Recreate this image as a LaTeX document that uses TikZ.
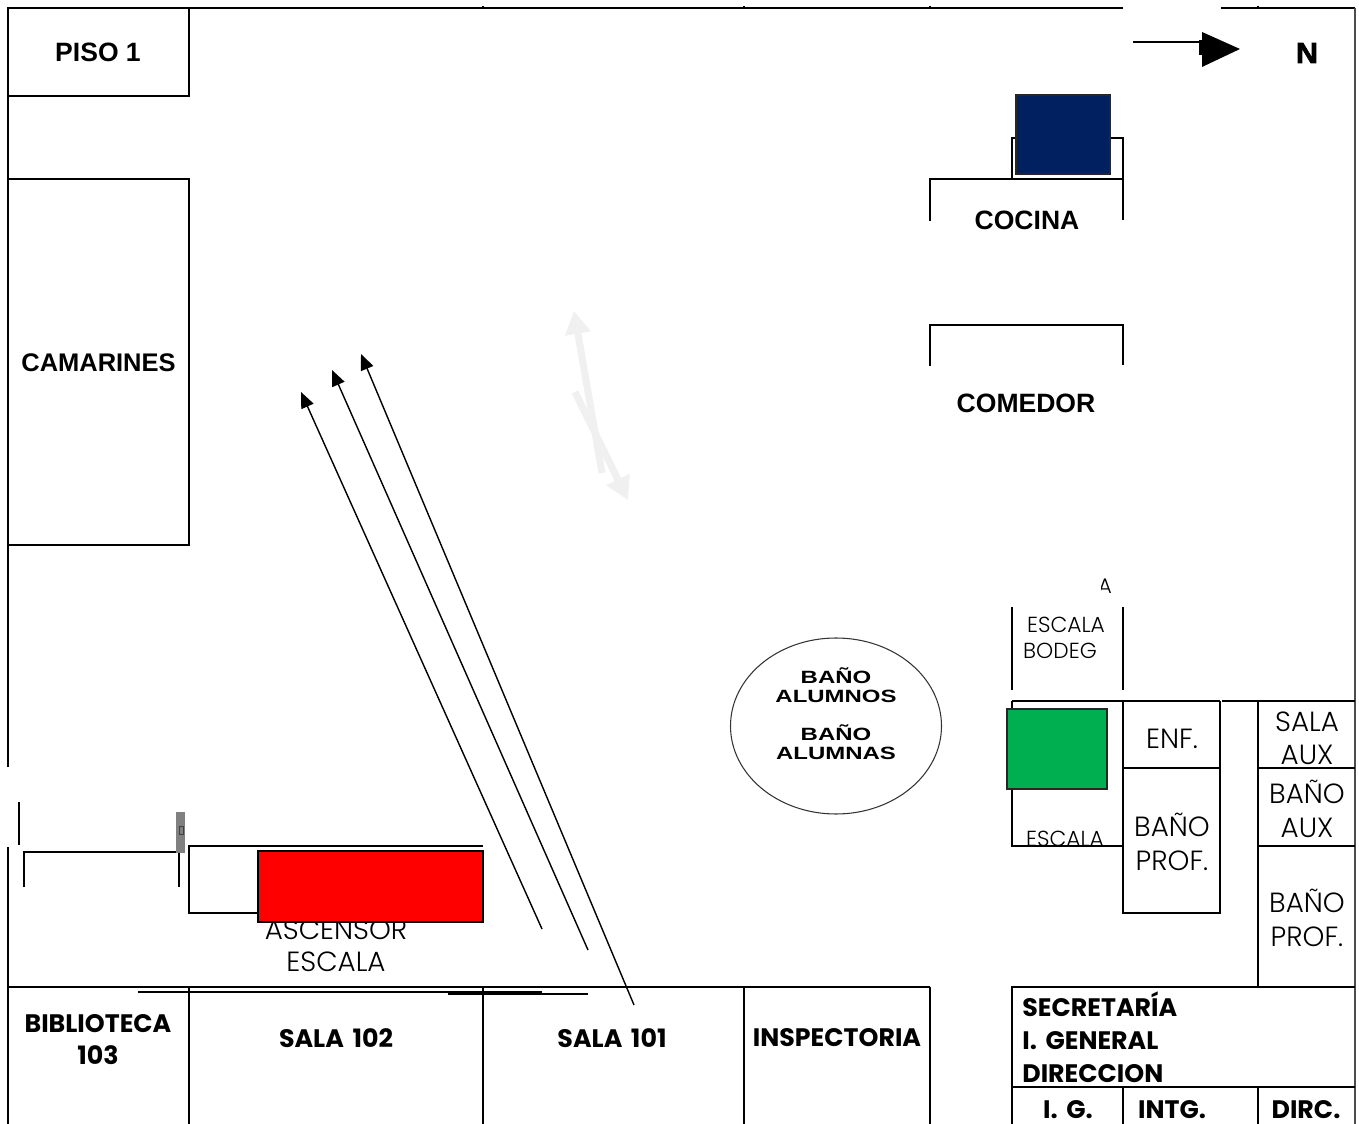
\documentclass[tikz,border=0pt]{standalone}
\usepackage{fontspec}
\usetikzlibrary{arrows.meta}
\setmainfont{Liberation Sans}
\newfontfamily\gothic[UprightFont=* Light,BoldFont=* Bold,BoldFeatures={WordSpace=1.6}]{Poppins}
\newfontfamily\widearial[FakeStretch=1.35]{Liberation Sans}
\newfontfamily\heavy[FakeBold=2.5,FakeStretch=1.05]{Liberation Sans}
\definecolor{navy}{HTML}{002060}
\definecolor{mygreen}{HTML}{00B050}
\definecolor{ghost}{HTML}{F0F0F0}
\tikzset{
 wall/.style={draw=black,line width=0.65pt},
 heavywall/.style={draw=black,line width=0.95pt},
 arial/.style={inner sep=0,font=\fontsize{15.1}{17}\selectfont\bfseries},
 gothiclabel/.style={inner sep=0,align=center,font=\gothic\fontsize{15.8}{19}\selectfont},
 gothicsmall/.style={inner sep=0,align=center,font=\gothic\fontsize{12.4}{14.8}\selectfont},
 gothicbold/.style={inner sep=0,align=center,font=\gothic\fontsize{14.4}{18.7}\selectfont\bfseries},
 gothicfoot/.style={inner sep=0,anchor=base,font=\gothic\fontsize{14.4}{16}\selectfont\bfseries},
 widelabel/.style={inner sep=0,align=center,font=\widearial\fontsize{10.1}{10.9}\selectfont\bfseries},
 thinarrow/.style={draw=black,line width=0.8pt,-{Triangle[length=9pt,width=7.5pt]}},
 ghostarrow/.style={draw=ghost,line width=4pt,-{Triangle[length=13pt,width=14pt]}},
}
\begin{document}
\begin{tikzpicture}[x=0.02cm,y=-0.02cm]
\useasboundingbox (0,0) rectangle (1359,1124);
\fill[white] (0,0) rectangle (1359,1124);
% outer walls
\draw[wall] (8,767) -- (8,8) -- (1123,8);
\draw[wall] (1221,8) -- (1355,8);
\draw[heavywall,draw=black!70] (1355,8) -- (1355,1124);
\draw[wall] (8,847) -- (8,1124);
\draw[wall] (19,802) -- (19,845);
\foreach \tx in {483,744,930,1258} \draw[wall] (\tx,6.5) -- (\tx,9);
% piso + camarines
\draw[heavywall] (189,8) -- (189,96) -- (8,96);
\draw[wall] (8,179) rectangle (189,545);
\node[arial] (piso) at (98,52) {PISO 1};
\node[arial,font=\fontsize{14.5}{17}\selectfont\bfseries] (camarines) at (98.5,363) {CAMARINES};
% cocina, comedor
\draw[wall] (930,221) -- (930,179) -- (1123,179) -- (1123,220);
\draw[wall] (1012,179) -- (1012,138) -- (1123,138) -- (1123,179);
\draw[wall] (930,366) -- (930,325) -- (1123,325) -- (1123,365);
\fill[navy,draw=black!85,line width=0.9pt] (1016,95) rectangle (1110,174);
\node[arial] (cocina) at (1027,220) {COCINA};
\node[arial] (comedor) at (1026,403) {COMEDOR};
% north arrow
\coordinate (nstart) at (1133,42);
\coordinate (nend) at (1201,42);
\draw[wall] (nstart) -- (nend);
\fill[black] (1199,40) rectangle (1203,55);
\fill[black] (1202,32) -- (1240,49) -- (1202,67) -- cycle;
\node[inner sep=0,font=\heavy\fontsize{16.5}{17}\selectfont\bfseries] (north) at (1307,53) {N};
% escala bodega
\draw[wall] (1012,607) -- (1012,690);
\draw[wall] (1123,607) -- (1123,690);
\begin{scope}
\clip (1101,570) rectangle (1120,600);
\node[gothicsmall,font=\gothic\fontsize{12}{13}\selectfont] (clipa) at (1105,586.5) {A};
\end{scope}
\node[gothicsmall] (escalaa) at (1066,625) {ESCALA};
\node[gothicsmall] (bodeg) at (1060,651) {BODEG};
% right block
\draw[wall] (1012,701) -- (1220,701);
\draw[wall] (1222,701) -- (1355,701);
\draw[wall] (1012,701) -- (1012,846) -- (1123,846);
\draw[wall] (1123,701) -- (1123,913) -- (1220,913) -- (1220,701);
\draw[wall] (1123,768) -- (1220,768);
\draw[wall] (1258,701) -- (1258,987);
\draw[wall] (1258,768) -- (1355,768);
\draw[wall] (1258,846) -- (1355,846);
\node[gothiclabel] (enf) at (1172,739) {ENF.};
\node[gothiclabel] (banoprofa) at (1172,842) {BAÑO\\PROF.};
\node[gothiclabel] (salaaux) at (1307,738) {SALA\\AUX};
\node[gothiclabel] (banoaux) at (1307,809) {BAÑO\\AUX};
\node[gothiclabel] (banoprofb) at (1307,918) {BAÑO\\PROF.};
\node[gothicsmall] (escalab) at (1065,839) {ESCALA};
\fill[mygreen,draw=black!85,line width=0.9pt] (1007,709) rectangle (1107,789);
% banos
\draw[black!80,line width=0.6pt] (836,726) ellipse [x radius=105.5,y radius=88];
\node[widelabel] (alumnos) at (836,685) {BAÑO\\ALUMNOS};
\node[widelabel] (alumnas) at (836,742.5) {BAÑO\\ALUMNAS};
% ascensor
\draw[wall] (24,887) -- (24,852) -- (179,852) -- (179,887);
\draw[heavywall,line width=1.3pt] (24,887) -- (24,852);
\fill[black!50] (176,812) rectangle (185,853);
\draw[black!75,line width=0.3pt] (179.5,826) rectangle (183,834);
\draw[wall] (483,846) -- (189,846) -- (189,913) -- (483,913);
\node[gothiclabel,font=\gothic\fontsize{15.8}{18}\selectfont] (ascensor) at (336,946) {ASCENSOR\\ESCALA};
\fill[red,draw=black,line width=1pt] (258,851) rectangle (483,922);
% diagonal arrows
\coordinate (aa) at (542,929); \coordinate (ab) at (301,392);
\coordinate (ba) at (588,950); \coordinate (bb) at (332,370);
\coordinate (ca) at (634,1005); \coordinate (cb) at (361,354);
\draw[thinarrow] (aa) -- (ab);
\draw[thinarrow] (ba) -- (bb);
\draw[thinarrow] (ca) -- (cb);
% ghost arrows
\coordinate (ga) at (602,473); \coordinate (gb) at (574,311);
\coordinate (gc) at (575,392); \coordinate (gd) at (628,500);
\draw[ghostarrow] (ga) -- (gb);
\draw[ghostarrow] (gc) -- (gd);
% bottom rooms
\draw[heavywall] (8,987) -- (930,987);
\draw[wall] (930,987) -- (930,1124);
\draw[heavywall] (189,987) -- (189,1124);
\draw[wall] (483,987) -- (483,1124);
\draw[wall] (744,987) -- (744,1124);
\draw[wall] (138,992) -- (542,992);
\draw[heavywall,line width=1.4pt] (448,994) -- (542,994);
\draw[wall] (448,994) -- (588,994);
\node[gothicbold] (biblio) at (98,1039.5) {BIBLIOTECA\\103};
\node[gothicbold] (s102) at (336,1038) {SALA 102};
\node[gothicbold] (s101) at (612,1038) {SALA 101};
\node[gothicbold] (insp) at (837,1038) {INSPECTORIA};
\draw[heavywall] (1012,1124) -- (1012,987) -- (1355,987);
\draw[wall] (1012,1087) -- (1355,1087);
\draw[wall] (1123,1087) -- (1123,1124);
\draw[wall] (1258,1087) -- (1258,1124);
\node[gothicbold,align=left,anchor=west] (secre) at (1022,1037) {SECRETARÍA\\I. GENERAL\\DIRECCION};
\node[gothicfoot] (ig) at (1068,1118) {I. G.};
\node[gothicfoot] (intg) at (1172,1118) {INTG.};
\node[gothicfoot] (dirc) at (1306,1118) {DIRC.};
\end{tikzpicture}
\end{document}
